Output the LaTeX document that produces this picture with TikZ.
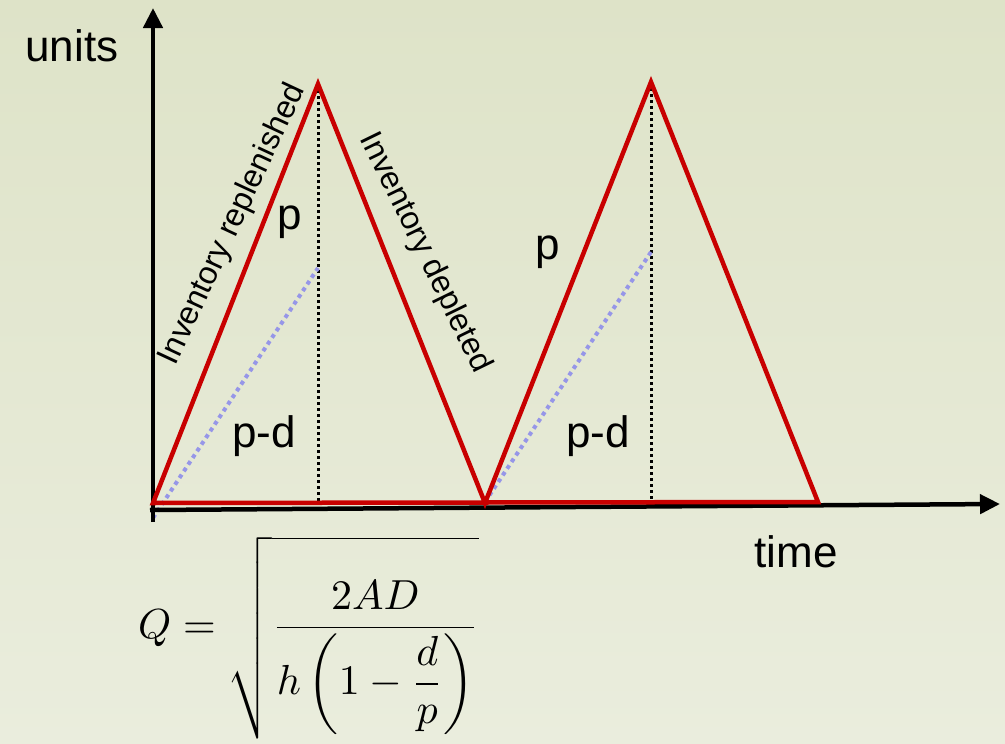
\documentclass[tikz,border=0pt]{standalone}
\usepackage{fontspec}
\setmainfont{Liberation Sans}
\usepackage{amsmath}
\usetikzlibrary{arrows.meta}
\definecolor{bgtop}{RGB}{222,227,200}
\definecolor{bgbot}{RGB}{234,237,221}
\definecolor{invred}{RGB}{200,0,0}
\definecolor{pdblue}{RGB}{150,150,232}
\tikzset{
  axis/.style={line width=4.5pt,-{Triangle[length=20pt,width=19pt]}},
  sawline/.style={line width=4.5pt,invred,line join=miter},
  peakline/.style={line width=3pt,black,dash pattern=on 3pt off 3pt},
  rateline/.style={line width=4pt,pdblue,dash pattern=on 4pt off 4pt},
  biglabel/.style={font=\fontsize{44}{50}\selectfont},
  slopelabel/.style={font=\fontsize{32}{36}\selectfont}
}
\begin{document}
\begin{tikzpicture}[x=1pt,y=-1pt]
\useasboundingbox (0,0) rectangle (1005,744);
\shade[top color=bgtop,bottom color=bgbot] (0,0) rectangle (1005,744);
% coordinates
\coordinate (O) at (153,503);
\coordinate (P1) at (318,84);
\coordinate (V1) at (485,503);
\coordinate (P2) at (651,82);
\coordinate (E) at (818,502);
\coordinate (B1) at (318,501);
\coordinate (B2) at (651,501);
\coordinate (Q1) at (153,518);
\coordinate (R1) at (318,268);
\coordinate (Q2) at (485,502);
\coordinate (R2) at (651,252);
\coordinate (Ybot) at (153,522);
\coordinate (Ytop) at (153,8);
\coordinate (Xl) at (150,510);
\coordinate (Xr) at (1000,504);
% peak lines
\draw[peakline] (P1) -- (B1);
\draw[peakline] (P2) -- (B2);
% rate lines
\draw[rateline] (Q1) -- (R1);
\draw[rateline] (Q2) -- (R2);
% axes
\draw[axis] (Ybot) -- (Ytop);
\draw[axis] (Xl) -- (Xr);
% inventory
\draw[sawline] (O) -- (P1) -- (V1) -- (P2) -- (E) -- cycle;
% labels
\node[biglabel] (units) at (72,46) {units};
\node[biglabel] (time) at (796,552) {time};
\node[biglabel] (p1) at (290,222) {p};
\node[biglabel] (pd1) at (264,436) {p-d};
\node[biglabel] (p2) at (548,252) {p};
\node[biglabel] (pd2) at (598,436) {p-d};
\node[slopelabel,rotate=65] (rep) at (233,224) {Inventory replenished};
\node[slopelabel,rotate=-64] (dep) at (425,253) {Inventory depleted};
% formula
\node[anchor=base west,inner sep=0pt] (formula) at (138,638) {\scalebox{4.2}{$\displaystyle Q=\sqrt{\frac{\rule{0pt}{14pt}2AD}{h\left(1-\dfrac{d}{p}\right)}}$}};
\end{tikzpicture}
\end{document}
